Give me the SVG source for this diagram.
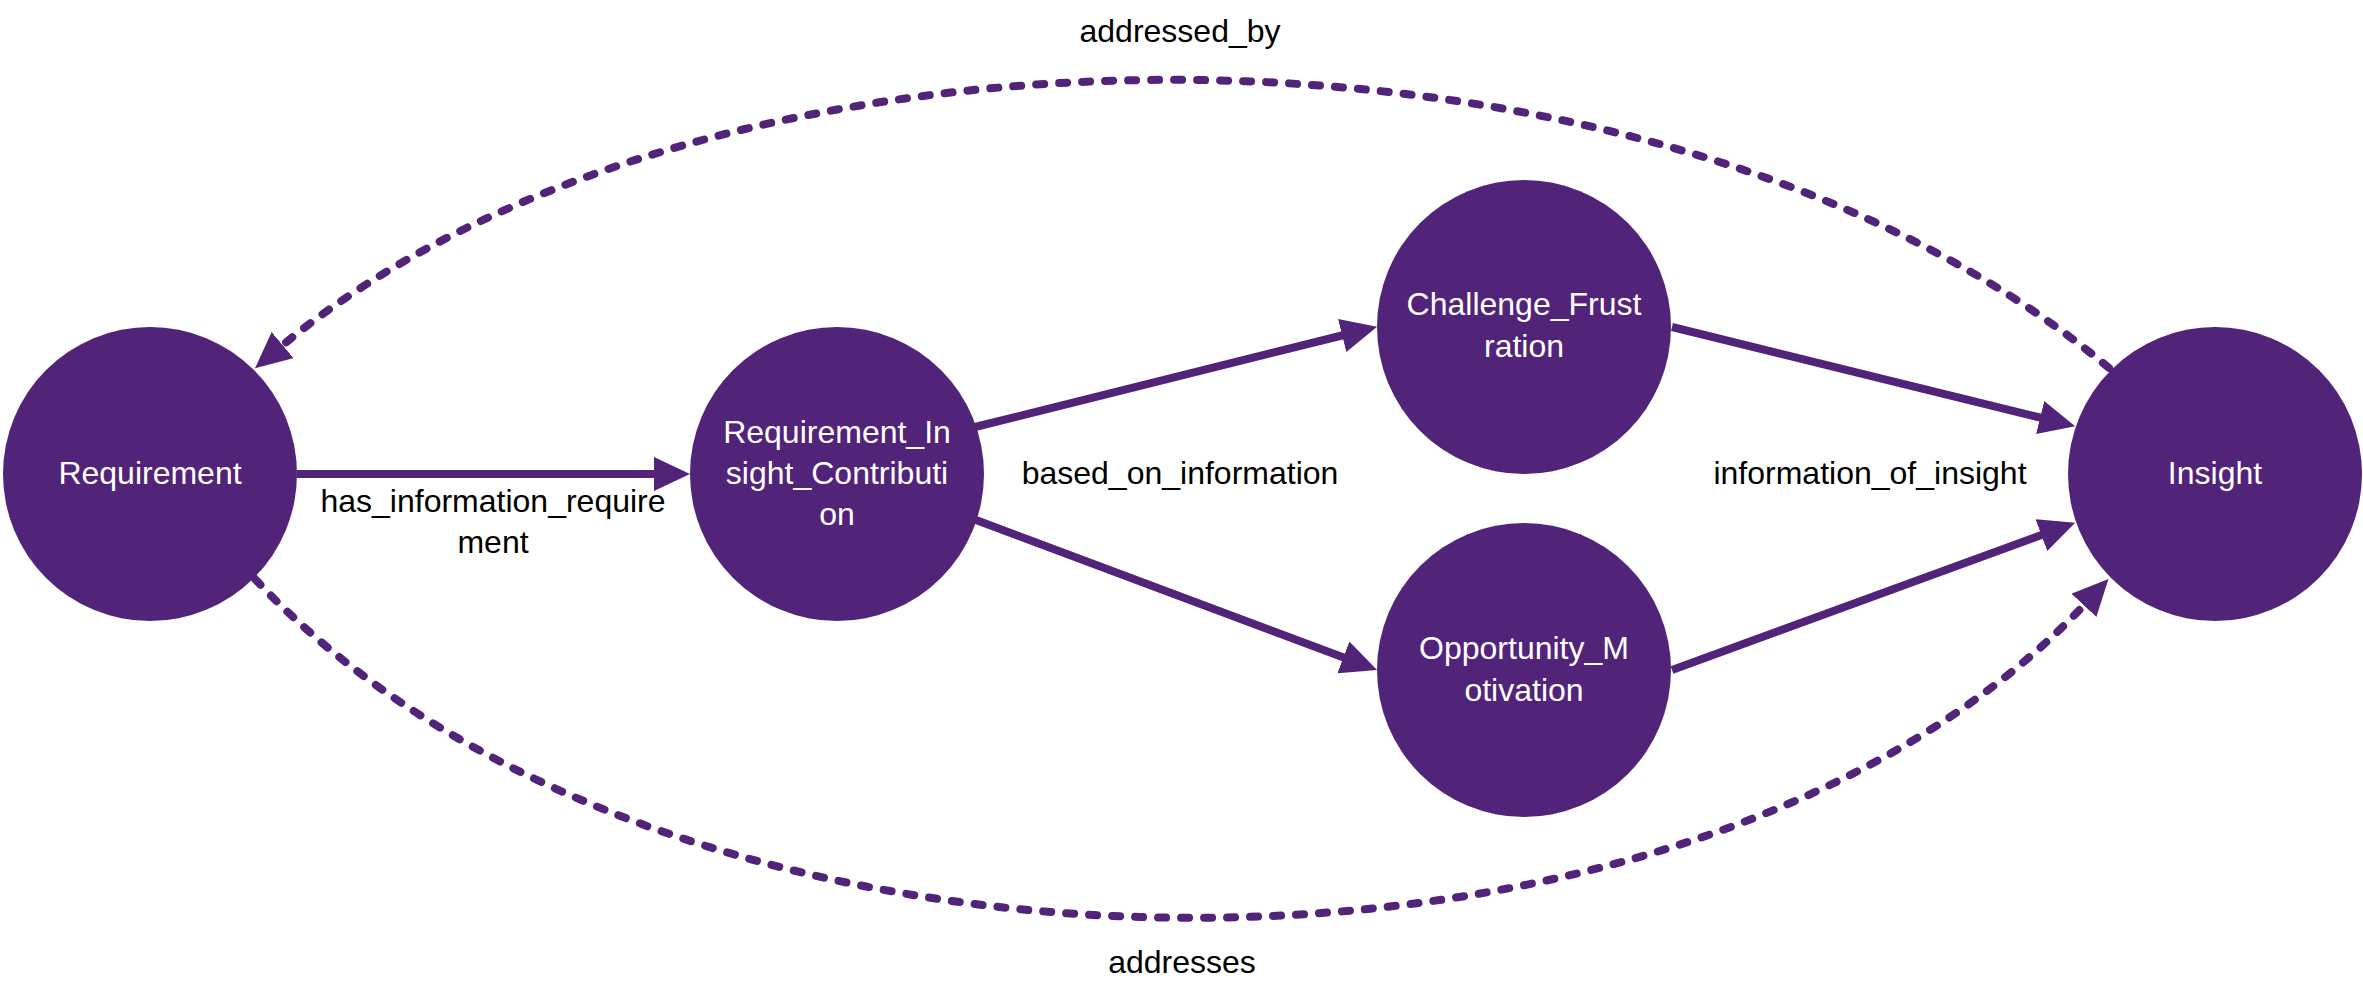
<svg xmlns="http://www.w3.org/2000/svg" width="2363" height="1004" viewBox="0 0 2363 1004">
<style>
.node{fill:#51247A;}
.nt{fill:#FFFFFF;font-family:"Liberation Sans",Arial,sans-serif;font-size:32px;text-anchor:middle;}
.lbl{fill:#000000;font-family:"Liberation Sans",Arial,sans-serif;font-size:32px;text-anchor:middle;}
.edge{fill:none;stroke:#51247A;stroke-width:8;marker-end:url(#arrow);}
.dash{stroke-dasharray:8 15;stroke-linecap:round;}
</style>
<defs>
<marker id="arrow" markerUnits="userSpaceOnUse" markerWidth="36" markerHeight="34" refX="6" refY="17" orient="auto">
<path d="M0,0 L36,17 L0,34 z" fill="#51247A"/>
</marker>
</defs>
<rect width="2363" height="1004" fill="#FFFFFF"/>
<g id="connectors">
<path class="edge" d="M297,474 L660,474"/>
<path class="edge" d="M975,427 L1348,334"/>
<path class="edge" d="M976,520 L1349,659.5"/>
<path class="edge" d="M1672,327 L2046,419"/>
<path class="edge" d="M1672,670 L2047,533"/>
<path class="edge dash" d="M2109,368 C1655,-13 709,-13 278,349"/>
<path class="edge dash" d="M255,579 C673,1027 1691,1027 2088,601"/>
<text class="lbl" x="493" y="512">has_information_require</text>
<text class="lbl" x="493" y="553">ment</text>
<text class="lbl" x="1180" y="484">based_on_information</text>
<text class="lbl" x="1870" y="484">information_of_insight</text>
<text class="lbl" x="1180" y="42">addressed_by</text>
<text class="lbl" x="1182" y="973">addresses</text>
</g>
<g id="node-requirement">
<circle class="node" cx="150" cy="474" r="147"/>
<text class="nt" x="150" y="484">Requirement</text>
</g>
<g id="node-requirement-insight-contribution">
<circle class="node" cx="837" cy="474" r="147"/>
<text class="nt" x="837" y="443">Requirement_In</text>
<text class="nt" x="837" y="484">sight_Contributi</text>
<text class="nt" x="837" y="525">on</text>
</g>
<g id="node-challenge-frustration">
<circle class="node" cx="1524" cy="327" r="147"/>
<text class="nt" x="1524" y="315">Challenge_Frust</text>
<text class="nt" x="1524" y="357">ration</text>
</g>
<g id="node-opportunity-motivation">
<circle class="node" cx="1524" cy="670" r="147"/>
<text class="nt" x="1524" y="659">Opportunity_M</text>
<text class="nt" x="1524" y="701">otivation</text>
</g>
<g id="node-insight">
<circle class="node" cx="2215" cy="474" r="147"/>
<text class="nt" x="2215" y="484">Insight</text>
</g>
</svg>
